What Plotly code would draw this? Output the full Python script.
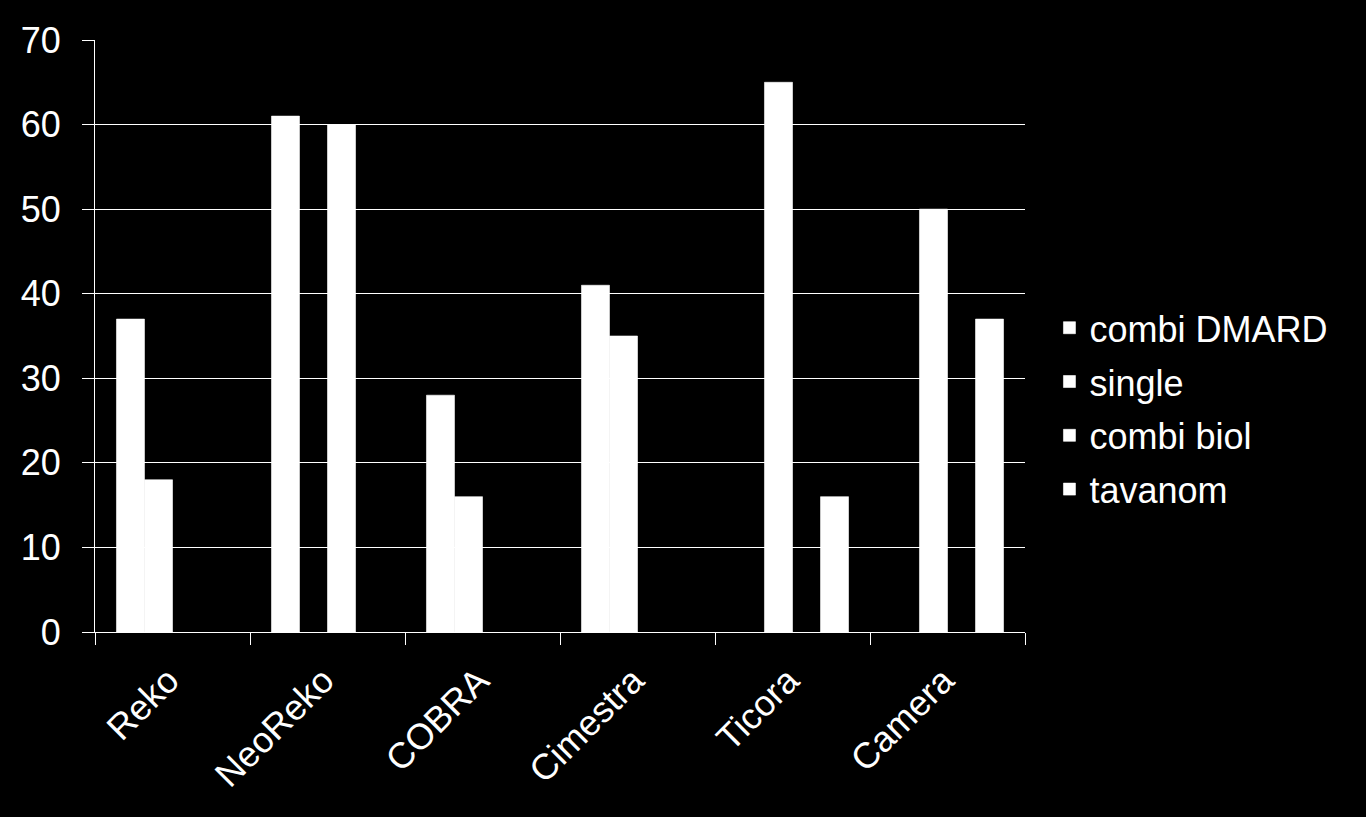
import plotly.graph_objects as go

categories = ["Reko", "NeoReko", "COBRA", "Cimestra", "Ticora", "Camera"]
series_names = ["combi DMARD", "single", "combi biol", "tavanom"]
combi_dmard = [37, 61, 28, 41, None, None]
single = [18, None, 16, 35, 65, 50]
combi_biol = [None, 60, None, None, None, None]
tavanom = [None, None, None, None, 16, 37]
y_ticks = [0, 10, 20, 30, 40, 50, 60, 70]

FONT = "Liberation Sans, Arial, sans-serif"

fig = go.Figure()
for i, (name, vals) in enumerate(zip(series_names, [combi_dmard, single, combi_biol, tavanom])):
    fig.add_trace(go.Bar(
        x=categories, y=vals, name=name,
        marker=dict(color="#ffffff", line=dict(width=0.6, color="#ffffff")),
        legendgroup=f"g{i}",
    ))

fig.update_layout(
    width=1366, height=817,
    paper_bgcolor="#000000", plot_bgcolor="#000000",
    margin=dict(l=95, r=341, t=40, b=185, autoexpand=False),
    barmode="group", bargap=0.277, bargroupgap=0,
    font=dict(family=FONT, color="#ffffff", size=36),
    showlegend=True,
    legend=dict(
        x=1.0263, xanchor="left", y=0.377, yanchor="middle",
        font=dict(family=FONT, size=36, color="#ffffff"),
        bgcolor="rgba(0,0,0,0)", tracegroupgap=4,
        itemwidth=30,
    ),
    xaxis=dict(
        type="category", tickson="boundaries", ticks="outside", ticklen=12,
        tickcolor="#ffffff", tickwidth=1, showline=True, linecolor="#ffffff",
        linewidth=1, tickangle=-45, showgrid=False, ticklabelstandoff=12,
        ticklabelshift=-4,
        tickfont=dict(family=FONT, size=36, color="#ffffff"),
    ),
    yaxis=dict(
        range=[0, 70], tickvals=y_ticks, ticks="outside", ticklen=12,
        tickcolor="#ffffff", tickwidth=1, showline=True, linecolor="#ffffff",
        linewidth=1, showgrid=True, gridcolor="#ffffff", gridwidth=1,
        zeroline=False, ticklabelstandoff=14,
        tickfont=dict(family=FONT, size=36, color="#ffffff"),
    ),
)

fig.write_html(
    "out.html",
    config={"displayModeBar": False},
    post_script="document.body.style.margin='0';document.body.style.background='#000';",
)
